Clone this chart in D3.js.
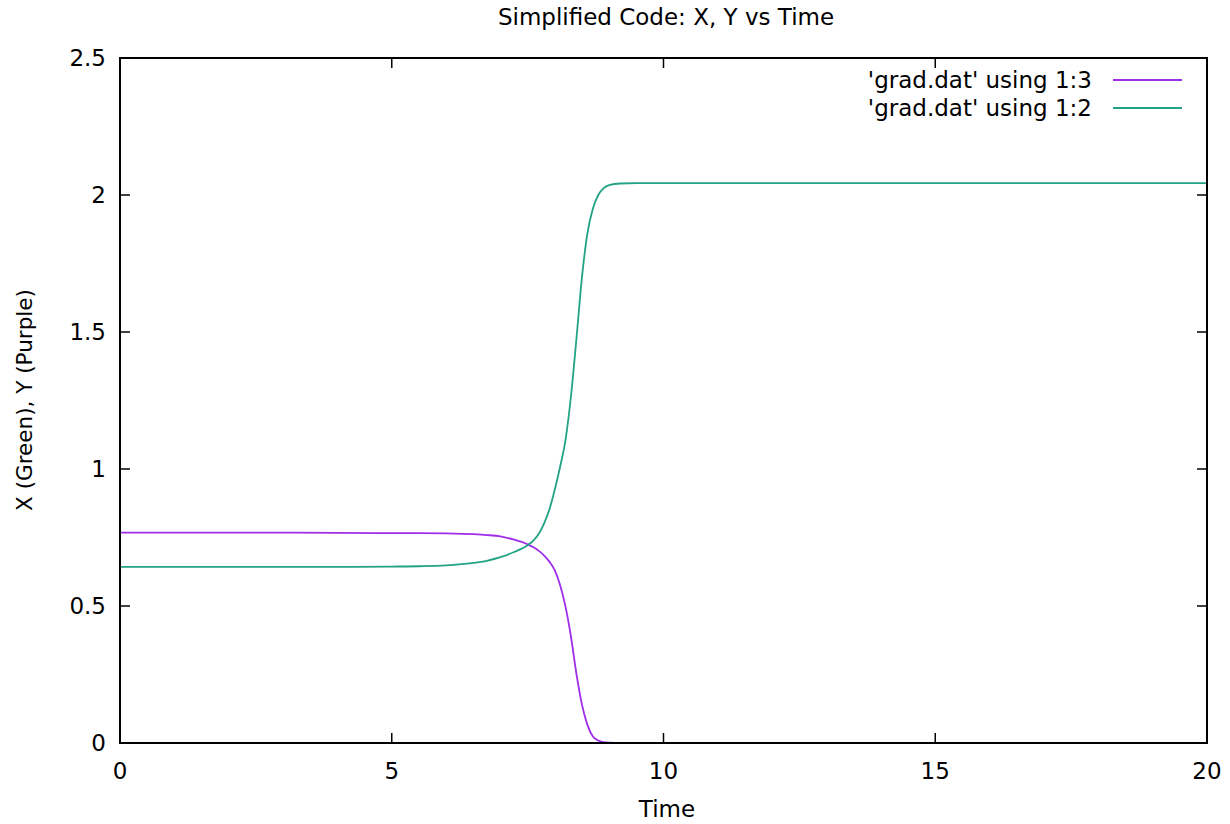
<!DOCTYPE html>
<html>
<head>
<meta charset="utf-8">
<script src="https://cdn.jsdelivr.net/npm/d3@7"></script>
<style>
  body { margin: 0; background: #fff; }
  svg text { font-family: "DejaVu Sans", sans-serif; fill: #000; }
</style>
</head>
<body>
<div id="canvas"></div>
<script>
"use strict"

/* Data: time and the two columns of grad.dat */
let timeValues = [0, 2, 4, 5, 5.5, 6, 6.5, 6.75, 7, 7.25, 7.5, 7.6, 7.7, 7.8, 7.9, 8, 8.1, 8.2, 8.3, 8.4, 8.5, 8.6, 8.7, 8.8, 8.9, 9, 9.2, 9.5, 10, 12, 15, 20];
// column 2: X (green)
let xValues = [0.643, 0.643, 0.643, 0.644, 0.645, 0.648, 0.657, 0.665, 0.678, 0.697, 0.722, 0.738, 0.762, 0.80, 0.852, 0.925, 1.01, 1.11, 1.27, 1.48, 1.70, 1.86, 1.95, 2.0, 2.025, 2.036, 2.042, 2.043, 2.043, 2.043, 2.043, 2.043];
// column 3: Y (purple)
let yValues = [0.768, 0.768, 0.767, 0.766, 0.766, 0.765, 0.762, 0.759, 0.754, 0.742, 0.725, 0.715, 0.702, 0.685, 0.662, 0.63, 0.575, 0.495, 0.385, 0.25, 0.14, 0.066, 0.024, 0.009, 0.003, 0.001, 0, 0, 0, 0, 0, 0];

let xTicks = [0, 5, 10, 15, 20];
let yTicks = [0, 0.5, 1, 1.5, 2, 2.5];

let seriesNames = ["'grad.dat' using 1:3", "'grad.dat' using 1:2"];
let seriesColors = ["#a02ee8", "#22a384"];

/* Drawing config */
let svgWidth = 1230;
let svgHeight = 824;
let marginLeft = 120;
let marginRight = 23;
let marginTop = 58;
let marginBottom = 81;
let tickLen = 10;
let fontSize = 23;

let svg = d3.select("#canvas")
    .append("svg")
    .attr("width", svgWidth)
    .attr("height", svgHeight);

let xScale = d3.scaleLinear()
    .domain([0, 20])
    .range([marginLeft, svgWidth - marginRight]);

let yScale = d3.scaleLinear()
    .domain([0, 2.5])
    .range([svgHeight - marginBottom, marginTop]);

// build rows for each series
let series = [
    timeValues.map(function(t, i) { return {t: t, v: yValues[i]}; }),
    timeValues.map(function(t, i) { return {t: t, v: xValues[i]}; })
];

let line = d3.line()
    .x(function(d) { return xScale(d.t); })
    .y(function(d) { return yScale(d.v); })
    .curve(d3.curveMonotoneX);

for (let i = 0; i < series.length; i++) {
    svg.append("path")
        .datum(series[i])
        .attr("fill", "none")
        .attr("stroke", seriesColors[i])
        .attr("stroke-width", 1.8)
        .attr("d", line);
}

/* ticks, inward and mirrored */
let x0 = xScale.range()[0], x1 = xScale.range()[1];
let y0 = yScale.range()[0], y1 = yScale.range()[1];

xTicks.forEach(function(t) {
    svg.append("line")
        .attr("x1", xScale(t)).attr("x2", xScale(t))
        .attr("y1", y0).attr("y2", y0 - tickLen)
        .attr("stroke", "black").attr("stroke-width", 1.5);
    svg.append("line")
        .attr("x1", xScale(t)).attr("x2", xScale(t))
        .attr("y1", y1).attr("y2", y1 + tickLen)
        .attr("stroke", "black").attr("stroke-width", 1.5);
    svg.append("text")
        .attr("x", xScale(t))
        .attr("y", y0 + 36)
        .attr("text-anchor", "middle")
        .attr("font-size", fontSize)
        .text(t);
});

yTicks.forEach(function(v) {
    svg.append("line")
        .attr("x1", x0).attr("x2", x0 + tickLen)
        .attr("y1", yScale(v)).attr("y2", yScale(v))
        .attr("stroke", "black").attr("stroke-width", 1.5);
    svg.append("line")
        .attr("x1", x1).attr("x2", x1 - tickLen)
        .attr("y1", yScale(v)).attr("y2", yScale(v))
        .attr("stroke", "black").attr("stroke-width", 1.5);
    svg.append("text")
        .attr("x", x0 - 14)
        .attr("y", yScale(v))
        .attr("text-anchor", "end")
        .attr("dominant-baseline", "central")
        .attr("font-size", fontSize)
        .text(v);
});

/* border */
svg.append("rect")
    .attr("x", x0)
    .attr("y", y1)
    .attr("width", x1 - x0)
    .attr("height", y0 - y1)
    .attr("fill", "none")
    .attr("stroke", "black")
    .attr("stroke-width", 2);

/* title and axis labels */
svg.append("text")
    .attr("x", 666)
    .attr("y", 25)
    .attr("text-anchor", "middle")
    .attr("font-size", fontSize)
    .text("Simplified Code: X, Y vs Time");

svg.append("text")
    .attr("x", 667)
    .attr("y", 817)
    .attr("text-anchor", "middle")
    .attr("font-size", fontSize)
    .text("Time");

svg.append("text")
    .attr("transform", "rotate(-90)")
    .attr("x", -400)
    .attr("y", 32)
    .attr("text-anchor", "middle")
    .attr("font-size", 21.5)
    .text("X (Green), Y (Purple)");

/* legend */
let legendX = 1092;
let legendY = 80;
for (let i = 0; i < seriesNames.length; i++) {
    let yPos = legendY + i * 28;
    svg.append("text")
        .attr("x", legendX)
        .attr("y", yPos)
        .attr("text-anchor", "end")
        .attr("dominant-baseline", "central")
        .attr("font-size", fontSize)
        .text(seriesNames[i]);
    svg.append("line")
        .attr("x1", legendX + 21).attr("x2", legendX + 90)
        .attr("y1", yPos).attr("y2", yPos)
        .attr("stroke", seriesColors[i])
        .attr("stroke-width", 2);
}
</script>
</body>
</html>
